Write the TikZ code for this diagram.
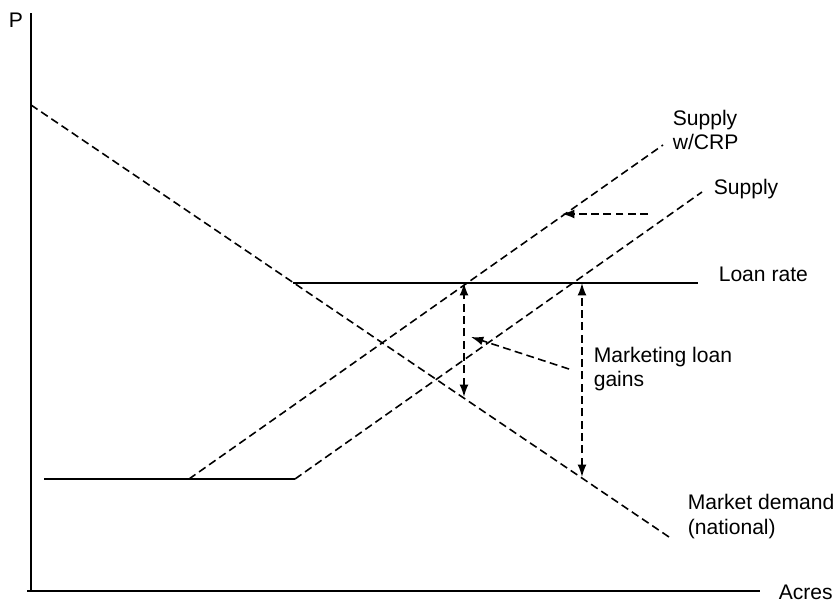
\documentclass[tikz,border=0pt]{standalone}
\usepackage{fontspec}
\setmainfont{Liberation Sans}
\usetikzlibrary{arrows.meta}

\tikzset{
  curve/.style={dash pattern=on 4.5pt off 2.5pt},
  gain/.style={curve,{Latex[length=7pt,width=5pt]}-{Latex[length=7pt,width=5pt]}},
  pointer/.style={curve,-{Latex[length=7pt,width=5pt]}},
  lbl/.style={align=left,anchor=base west,inner sep=0pt,font=\fontsize{12}{14.2}\selectfont}
}

\begin{document}
\begin{tikzpicture}[x=0.02cm,y=0.02cm,line width=0.9pt]
   \useasboundingbox (0,0) rectangle (838,602);
   % axes
   \coordinate (O) at (31,11);
   \coordinate (ytop) at (31,589);
   \coordinate (xbeg) at (27,11);
   \coordinate (xend) at (760,11);
   \draw (O) -- (ytop);
   \draw (xbeg) -- (xend);
   \node[lbl] (plbl) at (8,574) {P};
   \node[lbl] (acres) at (778,3) {Acres};
   % market demand
   \coordinate (dem1) at (31,497);
   \coordinate (dem2) at (669,65);
   \draw[curve] (dem1) -- (dem2);
   % loan rate and floor
   \coordinate (loan1) at (293,319);
   \coordinate (loan2) at (698,319);
   \draw (loan1) -- (loan2);
   \coordinate (floor1) at (44,123);
   \coordinate (floor2) at (295,123);
   \draw (floor1) -- (floor2);
   % supply curves
   \coordinate (crp1) at (189,123);
   \coordinate (crp2) at (663,457);
   \draw[curve] (crp1) -- (crp2);
   \coordinate (sup2) at (702,410);
   \draw[curve] (floor2) -- (sup2);
   % gains
   \coordinate (ga1) at (464,319);
   \coordinate (ga2) at (464,205);
   \draw[gain] (ga2) -- (ga1);
   \coordinate (gb1) at (582,319);
   \coordinate (gb2) at (582,125);
   \draw[gain] (gb2) -- (gb1);
   \coordinate (sh1) at (648,388);
   \coordinate (sh2) at (562,388);
   \draw[pointer] (sh1) -- (sh2);
   \coordinate (pt1) at (569,233);
   \coordinate (pt2) at (471,265);
   \draw[pointer] (pt1) -- (pt2);
   % labels (base = last line)
   \node[lbl] (crplbl) at (672,452) {Supply\\w/CRP};
   \node[lbl] (suplbl) at (713,407) {Supply};
   \node[lbl] (loanlbl) at (718,320) {Loan rate};
   \node[lbl] (gainlbl) at (593,215) {Marketing loan\\gains};
   \node[lbl] (demlbl) at (687,68) {Market demand\\(national)};
\end{tikzpicture}
\end{document}
